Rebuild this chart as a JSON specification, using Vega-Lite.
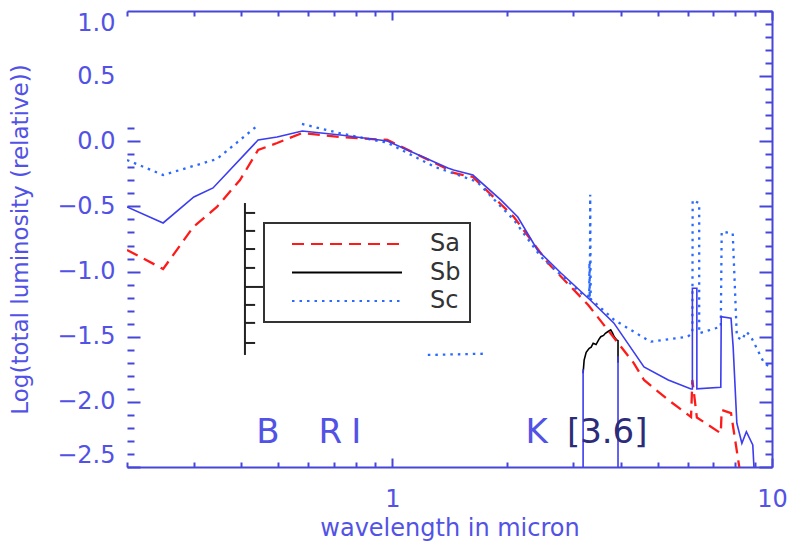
{
  "$schema": "https://vega.github.io/schema/vega-lite/v6.json",
  "width": 645,
  "height": 456,
  "autosize": "none",
  "padding": {"left": 127, "top": 11, "right": 17, "bottom": 81},
  "background": "white",
  "config": {
    "view": {"stroke": null},
    "axis": {
      "grid": false,
      "labelFont": "DejaVu Sans",
      "labelFontSize": 24,
      "labelColor": "#5252e6",
      "titleFont": "DejaVu Sans",
      "titleFontWeight": "normal",
      "titleColor": "#5252e6",
      "domainColor": "#4646d8",
      "domainWidth": 2,
      "tickColor": "#4646d8",
      "tickWidth": 2,
      "labelFlush": false,
      "labelOverlap": false
    },
    "legend": {
      "orient": "none",
      "legendX": 137,
      "legendY": 212,
      "fillColor": "white",
      "strokeColor": "#333333",
      "strokeWidth": 2,
      "padding": 9,
      "symbolType": "M-5.5,0H5.5",
      "symbolSize": 400,
      "symbolOffset": 62,
      "symbolStrokeWidth": 2,
      "labelFont": "DejaVu Sans",
      "labelFontSize": 24,
      "labelColor": "#333333",
      "labelOffset": 71,
      "rowPadding": 4.5
    }
  },
  "datasets": {
    "lines": [
      {"series": "Sa", "seg": "a", "x": 0.2, "y": -0.834},
      {"series": "Sa", "seg": "a", "x": 0.249, "y": -0.98},
      {"series": "Sa", "seg": "a", "x": 0.299, "y": -0.658},
      {"series": "Sa", "seg": "a", "x": 0.345, "y": -0.504},
      {"series": "Sa", "seg": "a", "x": 0.397, "y": -0.297},
      {"series": "Sa", "seg": "a", "x": 0.443, "y": -0.067},
      {"series": "Sa", "seg": "a", "x": 0.497, "y": -0.013},
      {"series": "Sa", "seg": "a", "x": 0.579, "y": 0.064},
      {"series": "Sa", "seg": "a", "x": 0.73, "y": 0.033},
      {"series": "Sa", "seg": "a", "x": 0.97, "y": 0.01},
      {"series": "Sa", "seg": "a", "x": 1.36, "y": -0.197},
      {"series": "Sa", "seg": "a", "x": 1.45, "y": -0.243},
      {"series": "Sa", "seg": "a", "x": 1.63, "y": -0.274},
      {"series": "Sa", "seg": "a", "x": 2.09, "y": -0.581},
      {"series": "Sa", "seg": "a", "x": 2.57, "y": -0.934},
      {"series": "Sa", "seg": "a", "x": 3.28, "y": -1.256},
      {"series": "Sa", "seg": "a", "x": 4.32, "y": -1.701},
      {"series": "Sa", "seg": "a", "x": 4.6, "y": -1.832},
      {"series": "Sa", "seg": "a", "x": 5.33, "y": -1.985},
      {"series": "Sa", "seg": "a", "x": 6.12, "y": -2.116},
      {"series": "Sa", "seg": "a", "x": 6.17, "y": -1.832},
      {"series": "Sa", "seg": "a", "x": 6.34, "y": -2.12},
      {"series": "Sa", "seg": "a", "x": 7.33, "y": -2.241},
      {"series": "Sa", "seg": "a", "x": 7.37, "y": -2.062},
      {"series": "Sa", "seg": "a", "x": 7.8, "y": -2.087},
      {"series": "Sa", "seg": "a", "x": 8.25, "y": -2.55},
      {"series": "Sc", "seg": "c1", "x": 0.2, "y": -0.144},
      {"series": "Sc", "seg": "c1", "x": 0.249, "y": -0.259},
      {"series": "Sc", "seg": "c1", "x": 0.345, "y": -0.136},
      {"series": "Sc", "seg": "c1", "x": 0.44, "y": 0.117},
      {"series": "Sc", "seg": "c2", "x": 0.578, "y": 0.133},
      {"series": "Sc", "seg": "c2", "x": 0.73, "y": 0.061},
      {"series": "Sc", "seg": "c2", "x": 0.97, "y": -0.011},
      {"series": "Sc", "seg": "c2", "x": 1.29, "y": -0.195},
      {"series": "Sc", "seg": "c2", "x": 1.67, "y": -0.31},
      {"series": "Sc", "seg": "c2", "x": 2.09, "y": -0.604},
      {"series": "Sc", "seg": "c2", "x": 2.46, "y": -0.886},
      {"series": "Sc", "seg": "c2", "x": 3.14, "y": -1.167},
      {"series": "Sc", "seg": "c2", "x": 3.3, "y": -1.19},
      {"series": "Sc", "seg": "c2", "x": 3.305, "y": -0.93},
      {"series": "Sc", "seg": "c2", "x": 3.31, "y": -1.2},
      {"series": "Sc", "seg": "c2", "x": 3.315, "y": -0.95},
      {"series": "Sc", "seg": "c2", "x": 3.32, "y": -0.41},
      {"series": "Sc", "seg": "c2", "x": 3.33, "y": -1.21},
      {"series": "Sc", "seg": "c2", "x": 3.84, "y": -1.371},
      {"series": "Sc", "seg": "c2", "x": 4.7, "y": -1.525},
      {"series": "Sc", "seg": "c2", "x": 4.8, "y": -1.538},
      {"series": "Sc", "seg": "c2", "x": 6.0, "y": -1.5},
      {"series": "Sc", "seg": "c2", "x": 6.17, "y": -1.47},
      {"series": "Sc", "seg": "c2", "x": 6.18, "y": -0.45},
      {"series": "Sc", "seg": "c2", "x": 6.43, "y": -0.476},
      {"series": "Sc", "seg": "c2", "x": 6.43, "y": -1.474},
      {"series": "Sc", "seg": "c2", "x": 7.33, "y": -1.423},
      {"series": "Sc", "seg": "c2", "x": 7.37, "y": -0.694},
      {"series": "Sc", "seg": "c2", "x": 7.88, "y": -0.706},
      {"series": "Sc", "seg": "c2", "x": 8.08, "y": -1.5},
      {"series": "Sc", "seg": "c2", "x": 8.33, "y": -1.525},
      {"series": "Sc", "seg": "c2", "x": 8.56, "y": -1.461},
      {"series": "Sc", "seg": "c2", "x": 8.8, "y": -1.5},
      {"series": "Sc", "seg": "c2", "x": 9.54, "y": -1.704},
      {"series": "Sc", "seg": "c2", "x": 10, "y": -1.74},
      {"series": "Sc", "seg": "c3", "x": 1.24, "y": -1.64},
      {"series": "Sc", "seg": "c3", "x": 1.78, "y": -1.63}
    ],
    "sb": [
      {"x": 0.2, "y": -0.504},
      {"x": 0.249, "y": -0.627},
      {"x": 0.3, "y": -0.427},
      {"x": 0.337, "y": -0.358},
      {"x": 0.443, "y": 0.01},
      {"x": 0.497, "y": 0.033},
      {"x": 0.579, "y": 0.079},
      {"x": 0.73, "y": 0.048},
      {"x": 0.97, "y": 0.002},
      {"x": 1.4, "y": -0.205},
      {"x": 1.45, "y": -0.22},
      {"x": 1.63, "y": -0.259},
      {"x": 1.93, "y": -0.45},
      {"x": 2.14, "y": -0.581},
      {"x": 2.41, "y": -0.834},
      {"x": 2.78, "y": -1.011},
      {"x": 3.32, "y": -1.218},
      {"x": 3.83, "y": -1.394},
      {"x": 4.6, "y": -1.732},
      {"x": 5.33, "y": -1.832},
      {"x": 6.12, "y": -1.901},
      {"x": 6.17, "y": -1.901},
      {"x": 6.17, "y": -1.128},
      {"x": 6.34, "y": -1.128},
      {"x": 6.34, "y": -1.9},
      {"x": 7.33, "y": -1.888},
      {"x": 7.35, "y": -1.346},
      {"x": 7.8, "y": -1.358},
      {"x": 7.9, "y": -1.576},
      {"x": 8.08, "y": -2.164},
      {"x": 8.33, "y": -2.318},
      {"x": 8.56, "y": -2.229},
      {"x": 8.9, "y": -2.331},
      {"x": 9.0, "y": -2.6}
    ],
    "filter": [
      {"x": 3.18, "y": -1.78},
      {"x": 3.2, "y": -1.68},
      {"x": 3.24, "y": -1.62},
      {"x": 3.3, "y": -1.589},
      {"x": 3.34, "y": -1.58},
      {"x": 3.38, "y": -1.55},
      {"x": 3.44, "y": -1.56},
      {"x": 3.5, "y": -1.52},
      {"x": 3.54, "y": -1.5},
      {"x": 3.6, "y": -1.49},
      {"x": 3.64, "y": -1.474},
      {"x": 3.7, "y": -1.46},
      {"x": 3.76, "y": -1.448},
      {"x": 3.8, "y": -1.47},
      {"x": 3.84, "y": -1.5},
      {"x": 3.9, "y": -1.525},
      {"x": 3.93, "y": -1.53},
      {"x": 3.93, "y": -1.7}
    ],
    "edges": [
      {"x": 3.18, "y": -2.5, "y2": -1.75},
      {"x": 3.93, "y": -2.5, "y2": -1.65}
    ],
    "bands": [
      {"t": "B", "x": 0.47, "y": -2.315},
      {"t": "R", "x": 0.686, "y": -2.315},
      {"t": "I", "x": 0.804, "y": -2.315},
      {"t": "K", "x": 2.4, "y": -2.315}
    ],
    "bands2": [
      {"t": "[3.6]", "x": 3.68, "y": -2.315}
    ],
    "bracket": [
      {"x": 0.409, "x2": 0.409, "y": -0.474, "y2": -1.64},
      {"x": 0.409, "x2": 0.435, "y": -0.55, "y2": -0.55},
      {"x": 0.409, "x2": 0.435, "y": -0.688, "y2": -0.688},
      {"x": 0.409, "x2": 0.435, "y": -0.827, "y2": -0.827},
      {"x": 0.409, "x2": 0.435, "y": -0.972, "y2": -0.972},
      {"x": 0.409, "x2": 0.459, "y": -1.118, "y2": -1.118},
      {"x": 0.409, "x2": 0.435, "y": -1.256, "y2": -1.256},
      {"x": 0.409, "x2": 0.435, "y": -1.394, "y2": -1.394},
      {"x": 0.409, "x2": 0.435, "y": -1.548, "y2": -1.548}
    ]
  },
  "layer": [
    {
      "data": {"name": "filter"},
      "mark": {"type": "line", "color": "#000000", "strokeWidth": 1.6, "clip": true},
      "encoding": {
        "x": {"field": "x", "type": "quantitative", "scale": {"type": "log", "domain": [0.2, 10], "nice": false},
          "axis": {"orient": "top", "values": [0.2,0.3,0.4,0.5,0.6,0.7,0.8,0.9,1,2,3,4,5,6,7,8,9,10], "labels": false, "title": null,
            "tickSize": {"condition": {"test": "datum.value == 1 || datum.value == 10", "value": -9}, "value": -5}}},
        "y": {"field": "y", "type": "quantitative", "scale": {"domain": [-2.5, 1], "nice": false},
          "axis": {"orient": "right", "values": [-2.5,-2.4,-2.3,-2.2,-2.1,-2.0,-1.9,-1.8,-1.7,-1.6,-1.5,-1.4,-1.3,-1.2,-1.1,-1.0,-0.9,-0.8,-0.7,-0.6,-0.5,-0.4,-0.3,-0.2,-0.1,0,0.1,0.2,0.3,0.4,0.5,0.6,0.7,0.8,0.9,1.0], "labels": false, "title": null,
            "tickSize": {"condition": {"test": "abs(datum.value*2 - round(datum.value*2)) < 0.000001", "value": -13}, "value": -7}}},
        "order": {"value": null}
      }
    },
    {
      "data": {"name": "edges"},
      "mark": {"type": "rule", "color": "#3c3cf0", "strokeWidth": 1.6},
      "encoding": {
        "x": {"field": "x", "type": "quantitative", "axis": null},
        "y": {"field": "y", "type": "quantitative",
          "axis": {"orient": "left", "values": [-2.5,-2.4,-2.3,-2.2,-2.1,-2.0,-1.9,-1.8,-1.7,-1.6,-1.5,-1.4,-1.3,-1.2,-1.1,-1.0,-0.9,-0.8,-0.7,-0.6,-0.5,-0.4,-0.3,-0.2,-0.1,0,0.1], "labels": false, "title": null, "domain": false,
            "tickSize": {"condition": {"test": "abs(datum.value*2 - round(datum.value*2)) < 0.000001", "value": -13}, "value": -7}}},
        "y2": {"field": "y2"}
      }
    },
    {
      "data": {"name": "lines"},
      "mark": {"type": "line", "strokeWidth": 2.3, "clip": true},
      "encoding": {
        "x": {"field": "x", "type": "quantitative", "axis": null},
        "y": {"field": "y", "type": "quantitative", "axis": null},
        "detail": {"field": "seg"},
        "order": {"value": null},
        "color": {"field": "series", "type": "nominal",
          "scale": {"domain": ["Sa", "Sb", "Sc"], "range": ["#ff1a1a", "#000000", "#2a6aff"]},
          "legend": {"title": null}},
        "strokeDash": {"field": "series", "type": "nominal",
          "scale": {"domain": ["Sa", "Sb", "Sc"], "range": [[12, 7], [1, 0], [2.5, 5]]},
          "legend": {"title": null}}
      }
    },
    {
      "data": {"name": "sb"},
      "mark": {"type": "line", "color": "#3c3cf0", "strokeWidth": 1.6, "clip": true},
      "encoding": {
        "x": {"field": "x", "type": "quantitative",
          "axis": {"orient": "bottom", "values": [0.2,0.3,0.4,0.5,0.6,0.7,0.8,0.9,1,2,3,4,5,6,7,8,9,10],
            "labelExpr": "datum.value == 1 ? '1' : (datum.value == 10 ? '10' : '')",
            "tickSize": {"condition": {"test": "datum.value == 1 || datum.value == 10", "value": -9}, "value": -5},
            "labelPadding": 29, "title": "wavelength in micron", "titleFontSize": 24, "titlePadding": 1}},
        "y": {"field": "y", "type": "quantitative",
          "axis": {"orient": "left", "values": [-2.5,-2.0,-1.5,-1.0,-0.5,0,0.5,1.0],
            "format": ".1f",
            "ticks": false,
            "labelFlush": true,
            "domain": false,
            "labelPadding": 12, "title": "Log(total luminosity (relative))", "titleFontSize": 23, "titlePadding": 24}},
        "order": {"value": null}
      }
    },
    {
      "mark": {"type": "rule", "color": "#4646d8", "strokeWidth": 2},
      "encoding": {
        "x": {"datum": 0.2, "type": "quantitative", "axis": null},
        "y": {"datum": -2.5, "type": "quantitative", "axis": null},
        "y2": {"datum": 0.12}
      }
    },
    {
      "data": {"name": "bracket"},
      "mark": {"type": "rule", "color": "#222222", "strokeWidth": 2},
      "encoding": {
        "x": {"field": "x", "type": "quantitative", "axis": null},
        "x2": {"field": "x2"},
        "y": {"field": "y", "type": "quantitative", "axis": null},
        "y2": {"field": "y2"}
      }
    },
    {
      "data": {"name": "bands"},
      "mark": {"type": "text", "font": "DejaVu Sans", "fontSize": 34, "color": "#5252e6", "baseline": "alphabetic", "align": "center"},
      "encoding": {
        "x": {"field": "x", "type": "quantitative", "axis": null},
        "y": {"field": "y", "type": "quantitative", "axis": null},
        "text": {"field": "t"}
      }
    },
    {
      "data": {"name": "bands2"},
      "mark": {"type": "text", "font": "DejaVu Sans", "fontSize": 34, "color": "#2c2c7a", "baseline": "alphabetic", "align": "center"},
      "encoding": {
        "x": {"field": "x", "type": "quantitative", "axis": null},
        "y": {"field": "y", "type": "quantitative", "axis": null},
        "text": {"field": "t"}
      }
    }
  ]
}
